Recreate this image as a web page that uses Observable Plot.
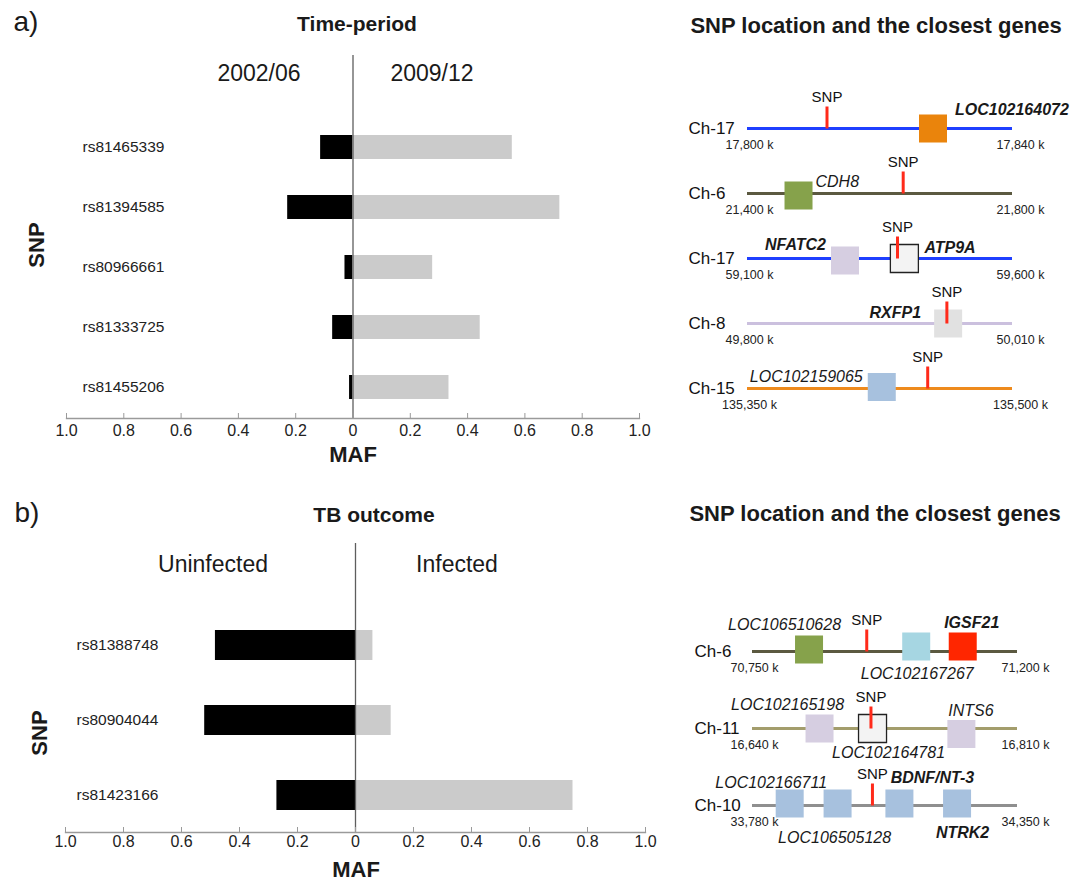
<!DOCTYPE html>
<html><head><meta charset="utf-8">
<script src="https://cdn.jsdelivr.net/npm/d3@7"></script>
<script src="https://cdn.jsdelivr.net/npm/@observablehq/plot@0.6"></script>
<style>
html,body{margin:0;padding:0;background:#fff;overflow:hidden;}
#root{position:relative;width:1070px;height:881px;font-family:"Liberation Sans",Arial,sans-serif;color:#1a1a1a;}
.lbl{position:absolute;transform:translate(-50%,-50%);white-space:nowrap;line-height:1;}
.panel{position:absolute;}
.panel svg{overflow:visible;}
</style></head><body><div id="root"></div>
<script>
// ---------- Data: bar charts (MAF) ----------
const snpsA = ["rs81465339","rs81394585","rs80966661","rs81333725","rs81455206"];
const maf2002 = [0.113,0.228,0.028,0.071,0.012];
const maf2009 = [0.556,0.722,0.278,0.444,0.335];
const snpsB = ["rs81388748","rs80904044","rs81423166"];
const mafUninfected = [0.483,0.520,0.271];
const mafInfected = [0.060,0.123,0.750];
const mafTicks = [-1,-0.8,-0.6,-0.4,-0.2,0,0.2,0.4,0.6,0.8,1];

// ---------- Data: SNP location diagrams (positions in kb) ----------
const chromA = ["Ch-17","Ch-6","Ch-17","Ch-8","Ch-15"];
const chromAStart = [17800,21400,59100,49800,135350];
const chromAEnd = [17840,21800,59600,50010,135500];
const snpAPos = [17812,21635,59383,49958,135452];
const genesA = [
  {row:0,name:"LOC102164072",pos:17828},
  {row:1,name:"CDH8",pos:21477},
  {row:2,name:"NFATC2",pos:59284},
  {row:2,name:"ATP9A",pos:59396},
  {row:3,name:"RXFP1",pos:49959},
  {row:4,name:"LOC102159065",pos:135426}
];
const chromB = ["Ch-6","Ch-11","Ch-10"];
const chromBStart = [70750,16640,33780];
const chromBEnd = [71200,16810,34350];
const snpBPos = [70944,16716,34038];
const genesB = [
  {row:0,name:"LOC106510628",pos:70846},
  {row:0,name:"LOC102167267",pos:71028},
  {row:0,name:"IGSF21",pos:71107},
  {row:1,name:"LOC102165198",pos:16683},
  {row:1,name:"LOC102164781",pos:16717},
  {row:1,name:"INTS6",pos:16774},
  {row:2,name:"LOC102166711",pos:33860},
  {row:2,name:"LOC106505128",pos:33963},
  {row:2,name:"BDNF/NT-3",pos:34096},
  {row:2,name:"NTRK2",pos:34220}
];

// ---------- Styles ----------
const chromColorsA = ["#1f3fff","#5b5940","#1f3fff","#cbc0de","#ee8a1c"];
const chromColorsB = ["#5b5940","#a39d6c","#8f8f8f"];
const geneStyle = {
  "LOC102164072":{fill:"#ea840c",bold:true,dx:22,dy:-19,anchor:"start",boxDy:0},
  "CDH8":{fill:"#86a24b",bold:false,dx:17,dy:-12,anchor:"start",boxDy:2},
  "NFATC2":{fill:"#d6cee1",bold:true,dx:-19,dy:-14,anchor:"end",boxDy:2},
  "ATP9A":{fill:"#f3f3f3",stroke:"#222",bold:true,dx:20,dy:-11,anchor:"start",boxDy:0},
  "RXFP1":{fill:"#e1e1e1",bold:true,dx:-27,dy:-11,anchor:"end",boxDy:0},
  "LOC102159065":{fill:"#a7c1de",bold:false,dx:-19,dy:-12,anchor:"end",boxDy:-1.5},
  "LOC106510628":{fill:"#86a24b",bold:false,dx:32,dy:-27,anchor:"end",boxDy:-2},
  "LOC102167267":{fill:"#a6d6e2",bold:false,dx:1,dy:22,anchor:"middle",boxDy:-5},
  "IGSF21":{fill:"#ff2600",bold:true,dx:9,dy:-29,anchor:"middle",boxDy:-5},
  "LOC102165198":{fill:"#d6cee1",bold:false,dx:-32,dy:-24,anchor:"middle",boxDy:0},
  "LOC102164781":{fill:"#f3f3f3",stroke:"#222",bold:false,dx:16,dy:24,anchor:"middle",boxDy:0},
  "INTS6":{fill:"#d6cee1",bold:false,dx:9.5,dy:-18,anchor:"middle",boxDy:5.5},
  "LOC102166711":{fill:"#a7c1de",bold:false,dx:-18.5,dy:-23,anchor:"middle",boxDy:-2},
  "LOC106505128":{fill:"#a7c1de",bold:false,dx:-3,dy:32,anchor:"middle",boxDy:-2},
  "BDNF/NT-3":{fill:"#a7c1de",bold:true,dx:33,dy:-28,anchor:"middle",boxDy:-2},
  "NTRK2":{fill:"#a7c1de",bold:true,dx:5.5,dy:27,anchor:"middle",boxDy:-2}
};
const FONT = '"Liberation Sans", Arial, sans-serif';
const root = document.getElementById("root");

function label(text, cx, cy, css) {
  const d = document.createElement("div");
  d.className = "lbl";
  d.textContent = text;
  d.style.left = cx + "px";
  d.style.top = cy + "px";
  Object.assign(d.style, css || {});
  root.appendChild(d);
  return d;
}
function place(node, left, top) {
  const w = document.createElement("div");
  w.className = "panel";
  w.style.left = left + "px";
  w.style.top = top + "px";
  w.appendChild(node);
  root.appendChild(w);
}
const fmtMaf = d => d === 0 ? "0" : Math.abs(d).toFixed(1);

function barPanel(opts) {
  const rows = opts.snps.map((s, i) => ({snp: s, left: opts.left[i], right: opts.right[i]}));
  const build = (tickSize) => Plot.plot({
    width: 660, height: opts.height,
    marginTop: opts.marginTop, marginBottom: opts.marginBottom,
    marginLeft: opts.marginLeft, marginRight: opts.marginRight,
    style: {fontFamily: FONT, fontSize: "16px", color: "#1a1a1a", background: "transparent"},
    x: {domain: [-1, 1], axis: null},
    y: {domain: opts.snps, range: opts.yRange, paddingInner: 0.6, paddingOuter: opts.paddingOuter, axis: null},
    marks: [
      Plot.barX(rows, {y: "snp", x1: d => -d.left, x2: d => 0, fill: "#000"}),
      Plot.barX(rows, {y: "snp", x1: d => 0, x2: d => d.right, fill: "#cbcbcb"}),
      Plot.ruleX([0], {stroke: "#5e5e5e", strokeWidth: 1.3}),
      Plot.text(rows, {y: "snp", text: "snp", frameAnchor: "left", textAnchor: "start", dx: opts.labelDx, fontSize: 15.5, fill: "#222"}),
      Plot.frame({anchor: "bottom", stroke: "#9a9a9a", strokeWidth: 1.3}),
      tickSize ? Plot.axisX({ticks: mafTicks, tickSize: tickSize, fill: "none", stroke: "#9a9a9a", label: null}) : null,
      Plot.axisX({ticks: mafTicks, tickFormat: fmtMaf, tickSize: 0, tickPadding: opts.tickPadding, fill: "#222", label: null})
    ]
  });
  let svg;
  try { svg = build(-5); } catch (e) { svg = build(0); }
  return svg;
}

function genePanel(opts) {
  const rows = opts.chroms.map((c, i) => ({i, label: c, start: opts.starts[i], end: opts.ends[i], snp: opts.snps[i], color: opts.colors[i]}));
  const frac = (p, r) => (p - r.start) / (r.end - r.start);
  const fmt = d3.format(",");
  const tickSymbol = {draw(ctx) { ctx.moveTo(0, 0); ctx.lineTo(0, -22); }};
  const geneMarks = [];
  const labelMarks = [];
  for (const g of opts.genes) {
    const s = geneStyle[g.name];
    const gx = d => frac(d.pos, rows[d.row]);
    geneMarks.push(Plot.dot([g], {x: gx, y: "row", symbol: "square", r: 15.8, fill: s.fill,
      stroke: s.stroke || "none", strokeWidth: 1.3, dy: s.boxDy, ariaLabel: "gene box"}));
    labelMarks.push(Plot.text([g], {x: gx, y: "row", text: "name", dx: s.dx, dy: s.dy, textAnchor: s.anchor,
      fontSize: 16, fontStyle: "italic", fontWeight: s.bold ? "bold" : "normal", fill: "#1a1a1a"}));
  }
  return Plot.plot({
    width: 410, height: opts.height,
    marginTop: 0, marginBottom: 0, marginLeft: opts.marginLeft, marginRight: opts.marginRight,
    style: {fontFamily: FONT, fontSize: "14px", color: "#1a1a1a", background: "transparent", overflow: "visible"},
    x: {domain: [0, 1], axis: null},
    y: {type: "point", domain: rows.map(r => r.i), range: opts.yRange, padding: 0, axis: null},
    color: {type: "identity"},
    marks: [
      Plot.ruleY(rows, {y: "i", x1: d => 0, x2: d => 1, stroke: "color", strokeWidth: 3}),
      ...geneMarks,
      Plot.dot(rows, {x: d => frac(d.snp, d), y: "i", symbol: tickSymbol, r: 1, fill: "none", stroke: "#ff2a1a", strokeWidth: 3}),
      Plot.text(rows, {x: d => frac(d.snp, d), y: "i", text: d => "SNP", dy: -31, fontSize: 15, fill: "#111"}),
      Plot.text(rows, {y: "i", frameAnchor: "left", text: "label", textAnchor: "start", dx: opts.chromDx, fontSize: 17, fill: "#111"}),
      Plot.text(rows, {x: d => 0, y: "i", text: d => fmt(d.start) + " k", dx: 2, dy: 16, fontSize: 12.5, fill: "#222"}),
      Plot.text(rows, {x: d => 1, y: "i", text: d => fmt(d.end) + " k", dx: 8, dy: 16, fontSize: 12.5, fill: "#222"}),
      ...labelMarks
    ]
  });
}

// ----- Panel a -----
place(barPanel({snps: snpsA, left: maf2002, right: maf2009, height: 470,
  marginTop: 55, marginBottom: 52, marginLeft: 66, marginRight: 21,
  yRange: [115, 418], paddingOuter: 0.3, labelDx: 16, tickPadding: 6}), 0, 0);
place(genePanel({chroms: chromA, starts: chromAStart, ends: chromAEnd, snps: snpAPos, genes: genesA,
  colors: chromColorsA, height: 470, marginLeft: 87, marginRight: 58, yRange: [127, 388], chromDx: -59}), 660, 0);

// ----- Panel b -----
place(barPanel({snps: snpsB, left: mafUninfected, right: mafInfected, height: 380,
  marginTop: 63, marginBottom: 28, marginLeft: 65, marginRight: 15,
  yRange: [128, 352], paddingOuter: 0.293, labelDx: 11, tickPadding: 3}), 0, 480);
place(genePanel({chroms: chromB, starts: chromBStart, ends: chromBEnd, snps: snpBPos, genes: genesB,
  colors: chromColorsB, height: 400, marginLeft: 92, marginRight: 53, yRange: [170, 325], chromDx: -58}), 660, 480);

// box shadows
d3.selectAll('g[aria-label="gene box"]').style("filter", "drop-shadow(1px 2px 1.5px rgba(0,0,0,0.3))");

// ----- Titles and headers -----
label("a)", 26, 22, {fontSize: "28px"});
label("Time-period", 357, 23, {fontSize: "21px", fontWeight: "bold"});
label("2002/06", 259, 73, {fontSize: "23px"});
label("2009/12", 432, 73, {fontSize: "23px"});
label("MAF", 353, 455, {fontSize: "22px", fontWeight: "bold"});
label("SNP", 37, 245, {fontSize: "22px", fontWeight: "bold", transform: "translate(-50%,-50%) rotate(-90deg)"});
label("SNP location and the closest genes", 876, 26, {fontSize: "22px", fontWeight: "bold"});

label("b)", 27, 513, {fontSize: "28px"});
label("TB outcome", 374, 514, {fontSize: "21px", fontWeight: "bold"});
label("Uninfected", 213, 564, {fontSize: "23px"});
label("Infected", 457, 564, {fontSize: "23px"});
label("MAF", 356, 870, {fontSize: "22px", fontWeight: "bold"});
label("SNP", 40, 733, {fontSize: "22px", fontWeight: "bold", transform: "translate(-50%,-50%) rotate(-90deg)"});
label("SNP location and the closest genes", 875, 514, {fontSize: "22px", fontWeight: "bold"});
</script>
</body></html>
